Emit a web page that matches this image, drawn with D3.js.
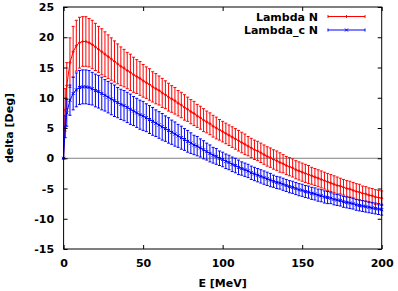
<html>
<head>
<meta charset="utf-8">
<script src="https://d3js.org/d3.v7.min.js"></script>
<style>
  body { margin: 0; background: #fff; }
  text { font-family: "DejaVu Sans", sans-serif; font-weight: bold; font-size: 11px; }
</style>
</head>
<body>
<script>
// energies (MeV)
var energy = [0, 1, 2, 4, 6, 8, 10, 12, 14, 16, 18, 20, 22, 24, 26, 28, 30, 32, 34, 36, 38, 40,
  42, 44, 46, 48, 50, 52, 54, 56, 58, 60, 62, 64, 66, 68, 70, 72, 74, 76, 78, 80,
  82, 84, 86, 88, 90, 92, 94, 96, 98, 100, 102, 104, 106, 108, 110, 112, 114, 116, 118, 120,
  122, 124, 126, 128, 130, 132, 134, 136, 138, 140, 142, 144, 146, 148, 150, 152, 154, 156, 158, 160,
  162, 164, 166, 168, 170, 172, 174, 176, 178, 180, 182, 184, 186, 188, 190, 192, 194, 196, 198, 200];

// Lambda N phase shift and its error
var lambdaN = [0, 8.0, 12.0, 15.8, 17.6, 18.6, 19.1, 19.3, 19.3, 19.1, 18.8, 18.4, 18.0, 17.6, 17.2, 16.8, 16.4, 16.0, 15.6, 15.2, 14.9, 14.5,
  14.2, 13.8, 13.5, 13.2, 12.8, 12.5, 12.2, 11.8, 11.5, 11.2, 10.8, 10.5, 10.1, 9.8, 9.5, 9.1, 8.8, 8.4, 8.1, 7.7,
  7.4, 7.0, 6.7, 6.3, 6.0, 5.7, 5.3, 5.0, 4.7, 4.4, 4.1, 3.8, 3.5, 3.2, 2.9, 2.6, 2.3, 2.0, 1.7, 1.4,
  1.2, 0.9, 0.6, 0.3, 0.1, -0.2, -0.4, -0.7, -0.9, -1.2, -1.4, -1.6, -1.9, -2.1, -2.3, -2.5, -2.7, -2.9, -3.1, -3.3,
  -3.5, -3.7, -3.9, -4.1, -4.3, -4.5, -4.6, -4.8, -5.0, -5.1, -5.3, -5.5, -5.6, -5.8, -5.9, -6.1, -6.2, -6.4, -6.5, -6.6];
var lambdaNErr = [0, 3.5, 3.8, 4.1, 4.2, 4.2, 4.2, 4.1, 4.1, 4.0, 4.0, 3.9, 3.8, 3.8, 3.7, 3.6, 3.5, 3.4, 3.3, 3.2, 3.1, 3.0,
  3.0, 2.9, 2.8, 2.8, 2.7, 2.6, 2.6, 2.5, 2.5, 2.4, 2.4, 2.3, 2.3, 2.2, 2.2, 2.1, 2.1, 2.1, 2.0, 2.0,
  2.0, 1.9, 1.9, 1.9, 1.8, 1.8, 1.8, 1.8, 1.7, 1.7, 1.7, 1.7, 1.7, 1.7, 1.7, 1.7, 1.7, 1.6, 1.6, 1.6,
  1.6, 1.6, 1.6, 1.6, 1.6, 1.6, 1.6, 1.6, 1.5, 1.5, 1.5, 1.5, 1.5, 1.5, 1.5, 1.5, 1.5, 1.4, 1.4, 1.4,
  1.4, 1.4, 1.4, 1.4, 1.4, 1.4, 1.3, 1.3, 1.3, 1.3, 1.3, 1.3, 1.3, 1.2, 1.2, 1.2, 1.2, 1.2, 1.2, 1.2];

// Lambda_c N phase shift and its error
var lambdacN = [0, 5.2, 7.5, 9.6, 10.7, 11.3, 11.7, 11.8, 11.8, 11.7, 11.5, 11.2, 11.0, 10.7, 10.4, 10.1, 9.8, 9.5, 9.2, 8.9, 8.7, 8.4,
  8.1, 7.8, 7.5, 7.2, 7.0, 6.7, 6.4, 6.1, 5.8, 5.5, 5.2, 4.9, 4.6, 4.3, 4.0, 3.7, 3.4, 3.1, 2.8, 2.5,
  2.2, 2.0, 1.7, 1.4, 1.1, 0.8, 0.5, 0.3, 0.0, -0.2, -0.5, -0.7, -1.0, -1.2, -1.5, -1.7, -1.9, -2.1, -2.4, -2.6,
  -2.8, -3.0, -3.2, -3.4, -3.6, -3.8, -4.0, -4.1, -4.3, -4.5, -4.7, -4.8, -5.0, -5.2, -5.3, -5.5, -5.6, -5.8, -5.9, -6.1,
  -6.2, -6.4, -6.5, -6.6, -6.8, -6.9, -7.0, -7.2, -7.3, -7.4, -7.5, -7.7, -7.8, -7.9, -8.0, -8.1, -8.2, -8.3, -8.4, -8.5];
var lambdacNErr = [0, 1.8, 2.2, 2.5, 2.7, 2.8, 2.8, 2.8, 2.8, 2.8, 2.7, 2.7, 2.7, 2.7, 2.6, 2.6, 2.6, 2.6, 2.5, 2.5, 2.5, 2.5,
  2.5, 2.4, 2.4, 2.4, 2.4, 2.3, 2.3, 2.3, 2.2, 2.2, 2.2, 2.1, 2.1, 2.0, 2.0, 1.9, 1.9, 1.8, 1.8, 1.7,
  1.6, 1.6, 1.5, 1.5, 1.4, 1.4, 1.3, 1.3, 1.2, 1.2, 1.2, 1.2, 1.2, 1.2, 1.2, 1.1, 1.1, 1.1, 1.1, 1.1,
  1.1, 1.1, 1.1, 1.1, 1.1, 1.0, 1.0, 1.0, 1.0, 1.0, 1.0, 1.0, 1.0, 1.0, 1.0, 1.0, 1.0, 1.0, 1.0, 1.0,
  1.0, 1.0, 1.0, 0.9, 0.9, 0.9, 0.9, 0.9, 0.9, 0.9, 0.9, 0.9, 0.9, 0.9, 0.9, 0.9, 0.9, 0.9, 0.9, 0.9];

var xTicks = [0, 50, 100, 150, 200];
var yTicks = [-15, -10, -5, 0, 5, 10, 15, 20, 25];
var seriesNames = ["Lambda N", "Lambda_c N"];
var seriesColors = ["#ff0000", "#0000ff"];

var width = 398, height = 291;
var margin = {top: 7, right: 16.3, bottom: 42, left: 63.6};

var svg = d3.select("body").append("svg")
    .attr("width", width)
    .attr("height", height);

var x = d3.scaleLinear().domain([0, 200]).range([margin.left, width - margin.right]);
var y = d3.scaleLinear().domain([-15, 25]).range([height - margin.bottom, margin.top]);

// zero line
svg.append("line")
    .attr("x1", x(0)).attr("x2", x(200))
    .attr("y1", y(0)).attr("y2", y(0))
    .attr("stroke", "#808080").attr("stroke-width", 1);

var series = [
  {name: seriesNames[0], color: seriesColors[0], marker: "plus",
   pts: energy.map((e, i) => ({e: e, v: lambdaN[i], err: lambdaNErr[i]}))},
  {name: seriesNames[1], color: seriesColors[1], marker: "cross",
   pts: energy.map((e, i) => ({e: e, v: lambdacN[i], err: lambdacNErr[i]}))}
];

var line = d3.line().x(d => x(d.e)).y(d => y(d.v));
var cap = 1.5, ms = 1.5;

series.forEach(function(s) {
  var g = svg.append("g").attr("stroke", s.color).attr("fill", "none").attr("stroke-width", 1);

  g.selectAll(".bar").data(s.pts).enter().append("line")
      .attr("x1", d => x(d.e)).attr("x2", d => x(d.e))
      .attr("y1", d => y(d.v - d.err)).attr("y2", d => y(d.v + d.err));
  g.selectAll(".capt").data(s.pts).enter().append("line")
      .attr("x1", d => x(d.e) - cap).attr("x2", d => x(d.e) + cap)
      .attr("y1", d => y(d.v + d.err)).attr("y2", d => y(d.v + d.err));
  g.selectAll(".capb").data(s.pts).enter().append("line")
      .attr("x1", d => x(d.e) - cap).attr("x2", d => x(d.e) + cap)
      .attr("y1", d => y(d.v - d.err)).attr("y2", d => y(d.v - d.err));

  g.append("path").attr("d", line(s.pts));

  g.selectAll(".pt").data(s.pts).enter().append("path")
      .attr("d", function(d) {
        var px = x(d.e), py = y(d.v);
        if (s.marker == "plus")
          return `M${px - ms},${py}H${px + ms}M${px},${py - ms}V${py + ms}`;
        return `M${px - ms},${py - ms}L${px + ms},${py + ms}M${px - ms},${py + ms}L${px + ms},${py - ms}`;
      });
});

// axes: inward ticks on all four sides
svg.append("g")
    .attr("transform", `translate(${margin.left},0)`)
    .call(d3.axisLeft(y).tickValues(yTicks).tickSize(-4).tickPadding(9.5).tickFormat(d => String(d)))
    .call(g => g.select(".domain").remove());
svg.append("g")
    .attr("transform", `translate(${width - margin.right},0)`)
    .call(d3.axisRight(y).tickValues(yTicks).tickSize(-4).tickFormat(""))
    .call(g => g.select(".domain").remove());
svg.append("g")
    .attr("transform", `translate(0,${height - margin.bottom})`)
    .call(d3.axisBottom(x).tickValues(xTicks).tickSize(-4).tickPadding(10).tickFormat(d => String(d)))
    .call(g => g.select(".domain").remove());
svg.append("g")
    .attr("transform", `translate(0,${margin.top})`)
    .call(d3.axisTop(x).tickValues(xTicks).tickSize(-4).tickFormat(""))
    .call(g => g.select(".domain").remove());

svg.selectAll(".tick text")
    .attr("fill", "#000")
    .style("font-family", "'DejaVu Sans', sans-serif")
    .style("font-weight", "bold")
    .style("font-size", "11px");
svg.selectAll(".tick line").attr("stroke", "#000");

// border
svg.append("rect")
    .attr("x", margin.left).attr("y", margin.top)
    .attr("width", width - margin.right - margin.left)
    .attr("height", height - margin.bottom - margin.top)
    .attr("fill", "none").attr("stroke", "#000").attr("stroke-width", 1);

// axis titles
svg.append("text")
    .attr("transform", `translate(13,${(margin.top + height - margin.bottom) / 2}) rotate(-90)`)
    .attr("text-anchor", "middle")
    .text("delta [Deg]");
svg.append("text")
    .attr("x", (margin.left + width - margin.right) / 2)
    .attr("y", 287)
    .attr("text-anchor", "middle")
    .text("E [MeV]");

// legend
series.forEach(function(s, i) {
  var ly = 16.5 + i * 13.5;
  svg.append("text")
      .attr("x", 318).attr("y", ly + 4)
      .attr("text-anchor", "end")
      .text(s.name);
  var lg = svg.append("g").attr("stroke", s.color).attr("stroke-width", 1).attr("fill", "none");
  lg.append("line").attr("x1", 328).attr("x2", 365).attr("y1", ly).attr("y2", ly);
  lg.append("line").attr("x1", 328).attr("x2", 328).attr("y1", ly - 1.5).attr("y2", ly + 1.5);
  lg.append("line").attr("x1", 365).attr("x2", 365).attr("y1", ly - 1.5).attr("y2", ly + 1.5);
  var cx = 346.5;
  lg.append("path").attr("d", s.marker == "plus"
      ? `M${cx - ms},${ly}H${cx + ms}M${cx},${ly - ms}V${ly + ms}`
      : `M${cx - ms},${ly - ms}L${cx + ms},${ly + ms}M${cx - ms},${ly + ms}L${cx + ms},${ly - ms}`);
});
</script>
</body>
</html>
